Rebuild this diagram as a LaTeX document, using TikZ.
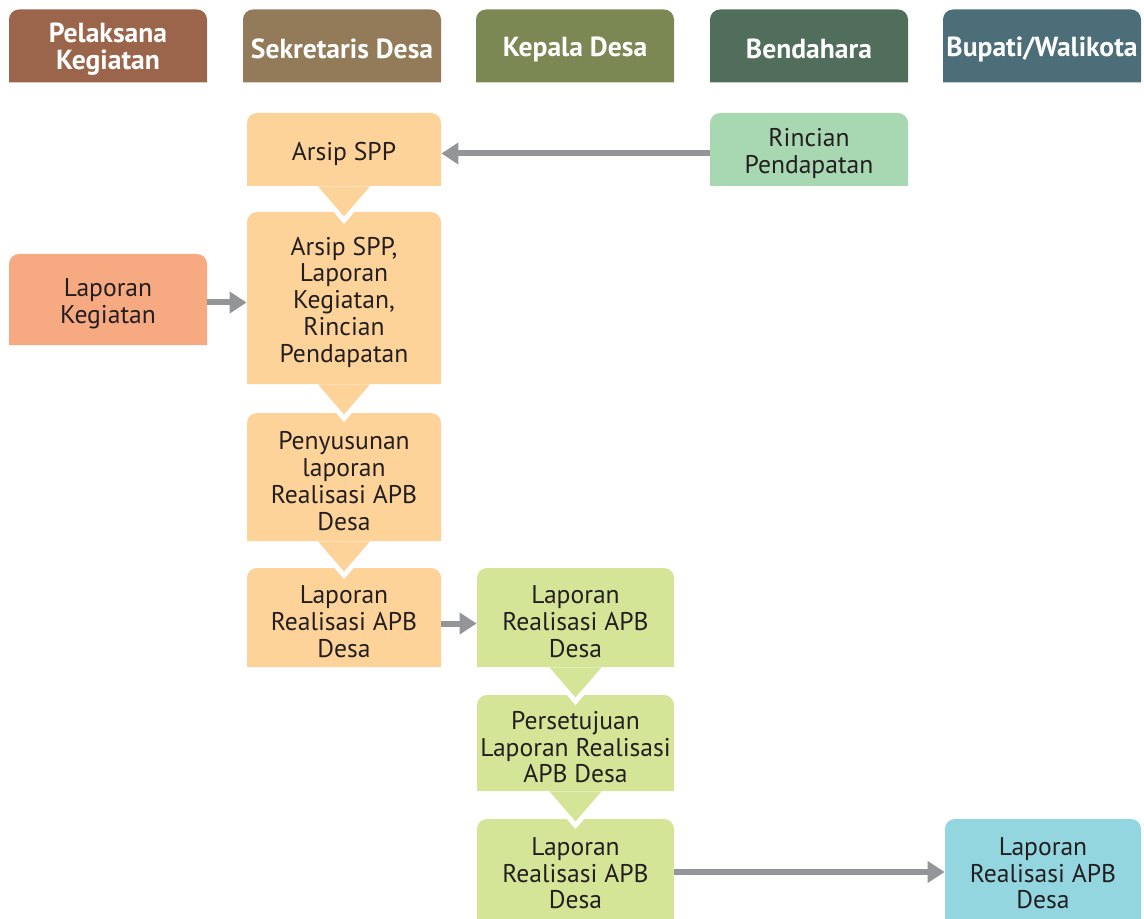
\documentclass[tikz,border=0pt]{standalone}
\usepackage{fontspec}
\setmainfont{PT Sans}
\usetikzlibrary{arrows.meta,positioning}

\definecolor{hpelcol}{HTML}{9A654B}
\definecolor{hsekcol}{HTML}{937B59}
\definecolor{hkepcol}{HTML}{7B8854}
\definecolor{hbencol}{HTML}{506E5B}
\definecolor{hbupcol}{HTML}{4B6E78}
\definecolor{orangebox}{HTML}{FDD399}
\definecolor{salmonbox}{HTML}{F7A982}
\definecolor{mintbox}{HTML}{A8D8B2}
\definecolor{limebox}{HTML}{D5E597}
\definecolor{cyanbox}{HTML}{93D6E0}
\definecolor{arrowgray}{HTML}{939598}
\definecolor{txt}{HTML}{231F20}

% taller first line, so the text sits a little lower in its box
\newcommand\lift{\rule{0pt}{13.3pt}}
\newcommand\hlift{\rule{0pt}{12.8pt}}

\tikzset{
  topround/.style={path picture={\fill[#1] (path picture bounding box.south west) [rounded corners=5pt] -- (path picture bounding box.north west) -- (path picture bounding box.north east) [sharp corners] -- (path picture bounding box.south east) -- cycle;}},
  headbox/.style={topround=#1,minimum width=99pt,minimum height=36.5pt,inner sep=0pt,text=white,align=center,font=\fontsize{13.8}{13.6}\selectfont\bfseries},
  stepbox/.style={topround=#1,inner sep=0pt,text=txt,align=center,font=\fontsize{12.8}{13.4}\selectfont},
  flowarrow/.style={draw=arrowgray,line width=3pt,-{Triangle[length=8.5pt,width=10.5pt]}}
}

% chevron below a step box: node, colour
\newcommand\chevdown[2]{%
  \draw[white,line width=5pt] ([xshift=-10.6pt,yshift=-2.6pt]#1.south) -- ([yshift=-15pt]#1.south) -- ([xshift=10.6pt,yshift=-2.6pt]#1.south);
  \fill[#2] ([xshift=-13pt]#1.south) -- ([yshift=-15pt]#1.south) -- ([xshift=13pt]#1.south) -- cycle;}

\begin{document}
\begin{tikzpicture}[x=0.5pt,y=-0.5pt]
\useasboundingbox (0,0) rectangle (1144,919);
% headers
\node[headbox=hpelcol] (hpel) at (108,46) {\hlift Pelaksana\\Kegiatan};
\node[headbox=hsekcol] (hsek) at (342,46) {\hlift Sekretaris Desa};
\node[headbox=hkepcol] (hkep) at (575,46) {\hlift Kepala Desa};
\node[headbox=hbencol] (hben) at (809,46) {\hlift Bendahara};
\node[headbox=hbupcol] (hbup) at (1042,46) {\hlift Bupati/Walikota};

% Sekretaris Desa
\node[stepbox=orangebox,minimum width=97pt,minimum height=36.5pt] (arsip) at (344,149.5) {\lift Arsip SPP};
\node[stepbox=orangebox,minimum width=97pt,minimum height=86pt] (gabung) at (344,298) {\lift Arsip SPP,\\Laporan\\Kegiatan,\\Rincian\\Pendapatan};
\node[stepbox=orangebox,minimum width=97pt,minimum height=64pt] (susun) at (344,477) {\lift Penyusunan\\laporan\\Realisasi APB\\Desa};
\node[stepbox=orangebox,minimum width=97pt,minimum height=49.5pt] (lapsek) at (344,617.5) {\lift Laporan\\Realisasi APB\\Desa};

% Pelaksana Kegiatan, Bendahara
\node[stepbox=salmonbox,minimum width=99pt,minimum height=45.5pt] (lapkeg) at (108,299.5) {\lift Laporan\\Kegiatan};
\node[stepbox=mintbox,minimum width=99pt,minimum height=36.5pt] (rincian) at (809,149.5) {\lift Rincian\\Pendapatan};

% Kepala Desa
\node[stepbox=limebox,minimum width=98.5pt,minimum height=49.5pt] (lapkep) at (575.5,617.5) {\lift Laporan\\Realisasi APB\\Desa};
\node[stepbox=limebox,minimum width=98.5pt,minimum height=48pt] (setuju) at (575.5,743) {\lift Persetujuan\\Laporan Realisasi\\APB Desa};
\node[stepbox=limebox,minimum width=98.5pt,minimum height=50pt] (lapakhir) at (575.5,869) {\lift Laporan\\Realisasi APB\\Desa};

% Bupati/Walikota
\node[stepbox=cyanbox,minimum width=98pt,minimum height=50pt] (lapbup) at (1043,869) {\lift Laporan\\Realisasi APB\\Desa};

\chevdown{arsip}{orangebox}
\chevdown{gabung}{orangebox}
\chevdown{susun}{orangebox}
\chevdown{lapkep}{limebox}
\chevdown{setuju}{limebox}

\draw[flowarrow] ([yshift=-2pt]rincian.west) -- ([yshift=-2pt]rincian.west -| arsip.east);
\draw[flowarrow] ([yshift=-1.5pt]lapkeg.east) -- ([yshift=-1.5pt]lapkeg.east -| gabung.west);
\draw[flowarrow] ([yshift=-3pt]lapsek.east) -- ([yshift=-3pt]lapsek.east -| lapkep.west);
\draw[flowarrow] ([yshift=-1.5pt]lapakhir.east) -- ([yshift=-1.5pt]lapakhir.east -| lapbup.west);
\end{tikzpicture}
\end{document}
